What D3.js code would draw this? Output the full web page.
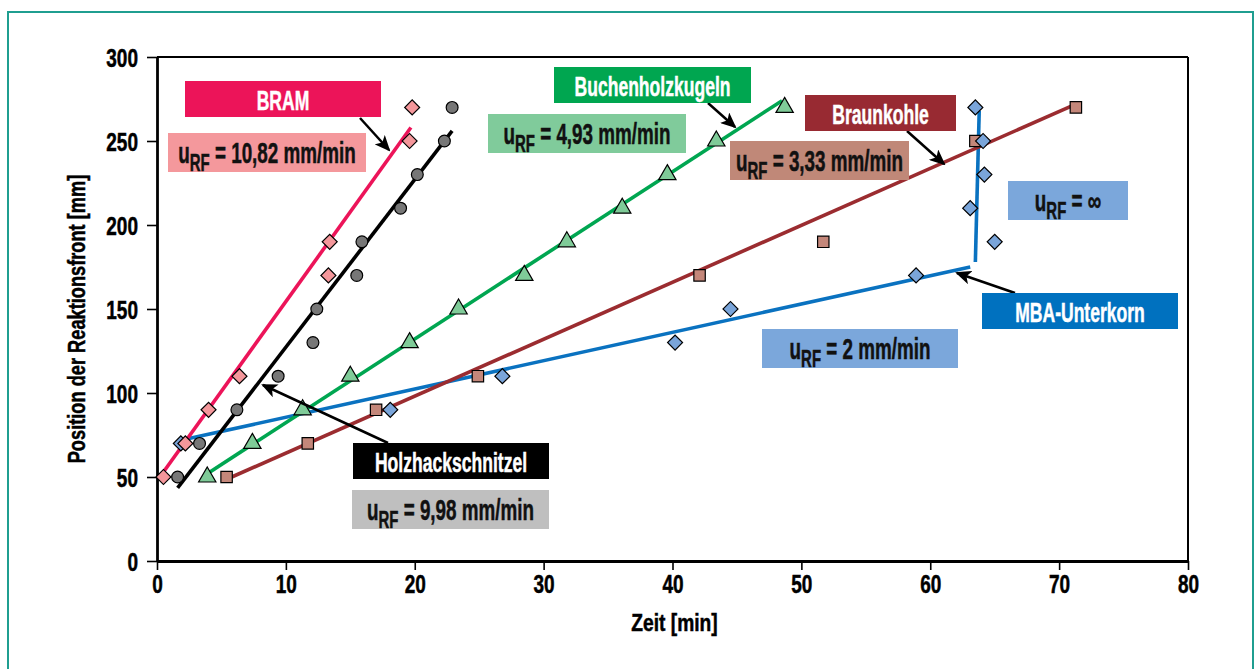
<!DOCTYPE html>
<html>
<head>
<meta charset="utf-8">
<script src="https://cdn.jsdelivr.net/npm/d3@7"></script>
<style>
  body { margin: 0; background: #fff; }
  svg text { font-family: "Liberation Sans", Arial, sans-serif; font-weight: bold; }
</style>
</head>
<body>
<svg class="chart-svg"></svg>
<script>
// values
const xTicks = [0, 10, 20, 30, 40, 50, 60, 70, 80];
const yTicks = [0, 50, 100, 150, 200, 250, 300];

const bramTime = [0.5, 2.2, 4.0, 6.4, 13.3, 13.4, 19.6, 19.8];
const bramPos = [50, 70, 90, 110, 170, 190, 250, 270];

const holzTime = [1.6, 3.3, 6.2, 9.4, 12.1, 12.4, 15.5, 15.9, 18.9, 20.2, 22.3, 22.9];
const holzPos = [50, 70, 90, 110, 130, 150, 170, 190, 210, 230, 250, 270];

const buchenTime = [3.9, 7.4, 11.3, 15.0, 19.6, 23.4, 28.5, 31.8, 36.1, 39.6, 43.4, 48.7];
const buchenPos = [50, 70, 90, 110, 130, 150, 170, 190, 210, 230, 250, 270];

const braunTime = [5.4, 11.7, 17.0, 24.9, 42.1, 51.7, 63.5, 71.3];
const braunPos = [50, 70, 90, 110, 170, 190, 250, 270];

const mbaTime = [1.85, 18.1, 26.8, 40.2, 44.5, 58.9, 65.0, 63.1, 64.2, 64.1, 63.5];
const mbaPos = [70, 90, 110, 130, 150, 170, 190, 210, 230, 250, 270];

// fitted lines [t0, pos0, t1, pos1]
const bramFit = [0.5, 53, 19.7, 258];
const holzFit = [1.6, 43.5, 22.9, 256];
const buchenFit = [3.9, 52, 48.5, 274];
const braunFit = [5.8, 50, 71.3, 272];
const mbaFit = [2.3, 72.6, 63.1, 175];
const mbaFitVert = [63.8, 268, 63.5, 178];

const names = ["BRAM", "Holzhackschnitzel", "Buchenholzkugeln", "Braunkohle", "MBA-Unterkorn"];
const rates = ["10,82 mm/min", "9,98 mm/min", "4,93 mm/min", "3,33 mm/min", "2 mm/min", "∞"];

const W = 1257, H = 669;
const margin = {top: 57, right: 69, bottom: 108, left: 157};

const svg = d3.select(".chart-svg").attr("width", W).attr("height", H);

svg.append("rect").attr("x", 8).attr("y", 12).attr("width", 1245).attr("height", 680)
    .attr("fill", "none").attr("stroke", "#1f9e90").attr("stroke-width", 2);

const x = d3.scaleLinear().domain([0, 80]).range([margin.left, W - margin.right]);
const y = d3.scaleLinear().domain([0, 300]).range([H - margin.bottom, margin.top]);

// squeeze text horizontally to imitate the condensed face
function label(parent, str, px, py, size, sx, fill, anchor) {
    const g = parent.append("g").attr("transform", `translate(${px},${py}) scale(${sx},1)`);
    return g.append("text").attr("text-anchor", anchor || "middle")
        .attr("font-size", size).attr("fill", fill || "#000")
        .attr("stroke", fill || "#000").attr("stroke-width", 0.5).text(str);
}

// frame of plot
svg.append("line").attr("x1", x(0)).attr("x2", x(80)).attr("y1", y(300)).attr("y2", y(300))
    .attr("stroke", "#000").attr("stroke-width", 2);
svg.append("line").attr("x1", x(80)).attr("x2", x(80)).attr("y1", y(300)).attr("y2", y(0))
    .attr("stroke", "#000").attr("stroke-width", 2);

const tsx = 0.76;
const yAxis = svg.append("g").attr("transform", `translate(${x(0)},0)`)
    .call(d3.axisLeft(y).tickValues(yTicks).tickSize(10).tickSizeOuter(0).tickFormat(d3.format("d")));
const xAxis = svg.append("g").attr("transform", `translate(0,${y(0)})`)
    .call(d3.axisBottom(x).tickValues(xTicks).tickSize(9).tickSizeOuter(0).tickFormat(d3.format("d")));

[yAxis, xAxis].forEach(a => {
    a.select(".domain").attr("stroke", "#000").attr("stroke-width", 2.8);
    a.selectAll(".tick line").attr("stroke", "#000").attr("stroke-width", 1.6);
    a.selectAll(".tick text").attr("font-size", 25).attr("fill", "#000")
        .attr("stroke", "#000").attr("stroke-width", 0.5)
        .attr("font-family", "'Liberation Sans', Arial, sans-serif").attr("font-weight", "bold");
});
yAxis.selectAll(".tick text").attr("x", -19 / tsx).attr("dy", "0.36em").attr("transform", `scale(${tsx},1)`);
xAxis.selectAll(".tick text").attr("y", 14).attr("transform", `scale(${tsx},1)`);

label(svg, "Zeit [min]", (x(0) + x(80)) / 2 + 2, 631, 24, 0.8);
const yt = svg.append("g").attr("transform", `translate(85,${(y(0) + y(300)) / 2 + 10}) rotate(-90) scale(${tsx},1)`);
yt.append("text").attr("text-anchor", "middle").attr("font-size", 24)
    .attr("stroke", "#000").attr("stroke-width", 0.5).text("Position der Reaktionsfront [mm]");

// fit lines
const fits = [
    {f: mbaFit, c: "#0a72c0"},
    {f: mbaFitVert, c: "#0a72c0"},
    {f: braunFit, c: "#9b2c30"},
    {f: buchenFit, c: "#00a651"},
    {f: holzFit, c: "#000000"},
    {f: bramFit, c: "#ec1459"}
];
svg.append("g").selectAll("line").data(fits).join("line")
    .attr("x1", d => x(d.f[0])).attr("y1", d => y(d.f[1]))
    .attr("x2", d => x(d.f[2])).attr("y2", d => y(d.f[3]))
    .attr("stroke", d => d.c).attr("stroke-width", 3.6);

// markers
const series = [
    {t: braunTime, p: braunPos, fill: "#c4877a", sym: d3.symbolSquare, size: 130, rot: 0},
    {t: mbaTime, p: mbaPos, fill: "#7aa5da", sym: d3.symbolSquare, size: 112, rot: 45},
    {t: buchenTime, p: buchenPos, fill: "#7fcb98", sym: d3.symbolTriangle, size: 130, rot: 0},
    {t: holzTime, p: holzPos, fill: "#777777", sym: d3.symbolCircle, size: 110, rot: 0},
    {t: bramTime, p: bramPos, fill: "#f4979b", sym: d3.symbolSquare, size: 112, rot: 45}
];
series.forEach(s => {
    svg.append("g").selectAll("path").data(s.t.map((t, i) => [t, s.p[i]])).join("path")
        .attr("d", d3.symbol().type(s.sym).size(s.size))
        .attr("transform", d => `translate(${x(d[0])},${y(d[1])}) rotate(${s.rot})`)
        .attr("fill", s.fill).attr("stroke", "#000").attr("stroke-width", 1.2);
});

// arrows
svg.append("defs").append("marker").attr("id", "head")
    .attr("markerUnits", "userSpaceOnUse").attr("markerWidth", 16).attr("markerHeight", 14)
    .attr("refX", 14).attr("refY", 7).attr("orient", "auto")
    .append("path").attr("d", "M0,0 L16,7 L0,14 L4,7 Z").attr("fill", "#000");

const arrows = [
    [360, 118, 389, 150],
    [708, 103, 735, 127],
    [907, 131, 944, 164],
    [1015, 293, 957, 273],
    [388, 443, 263, 385]
];
svg.append("g").selectAll("line").data(arrows).join("line")
    .attr("x1", d => d[0]).attr("y1", d => d[1]).attr("x2", d => d[2]).attr("y2", d => d[3])
    .attr("stroke", "#000").attr("stroke-width", 2.5).attr("marker-end", "url(#head)");

// name boxes
const nameBoxes = [
    {i: 0, x: 185, y: 81, w: 196, fill: "#ec1459"},
    {i: 1, x: 353, y: 443, w: 196, fill: "#000000"},
    {i: 2, x: 554, y: 67, w: 197, fill: "#00a650"},
    {i: 3, x: 805, y: 95, w: 151, fill: "#982a32"},
    {i: 4, x: 982, y: 293, w: 196, fill: "#0071bf"}
];
nameBoxes.forEach(b => {
    svg.append("rect").attr("x", b.x).attr("y", b.y).attr("width", b.w).attr("height", 36).attr("fill", b.fill);
    label(svg, names[b.i], b.x + b.w / 2, b.y + 28.5, 27, 0.65, "#fff");
});

// rate boxes
const rateBoxes = [
    {i: 0, x: 168, y: 133, w: 198, fill: "#f4989c"},
    {i: 1, x: 352, y: 490, w: 197, fill: "#bfbfbf"},
    {i: 2, x: 488, y: 114, w: 198, fill: "#80cb9b"},
    {i: 3, x: 730, y: 141, w: 179, fill: "#c08878"},
    {i: 4, x: 762, y: 329, w: 196, fill: "#7ba7db"},
    {i: 5, x: 1008, y: 181, w: 120, fill: "#7ba7db"}
];
rateBoxes.forEach(b => {
    svg.append("rect").attr("x", b.x).attr("y", b.y).attr("width", b.w).attr("height", 39).attr("fill", b.fill);
    const t = label(svg, "", b.x + b.w / 2, b.y + 29.5, 29, 0.65, "#111");
    t.append("tspan").text("u");
    t.append("tspan").attr("font-size", 23).attr("dy", 8).text("RF");
    t.append("tspan").attr("dy", -8).text(" = " + rates[b.i]);
});
</script>
</body>
</html>
